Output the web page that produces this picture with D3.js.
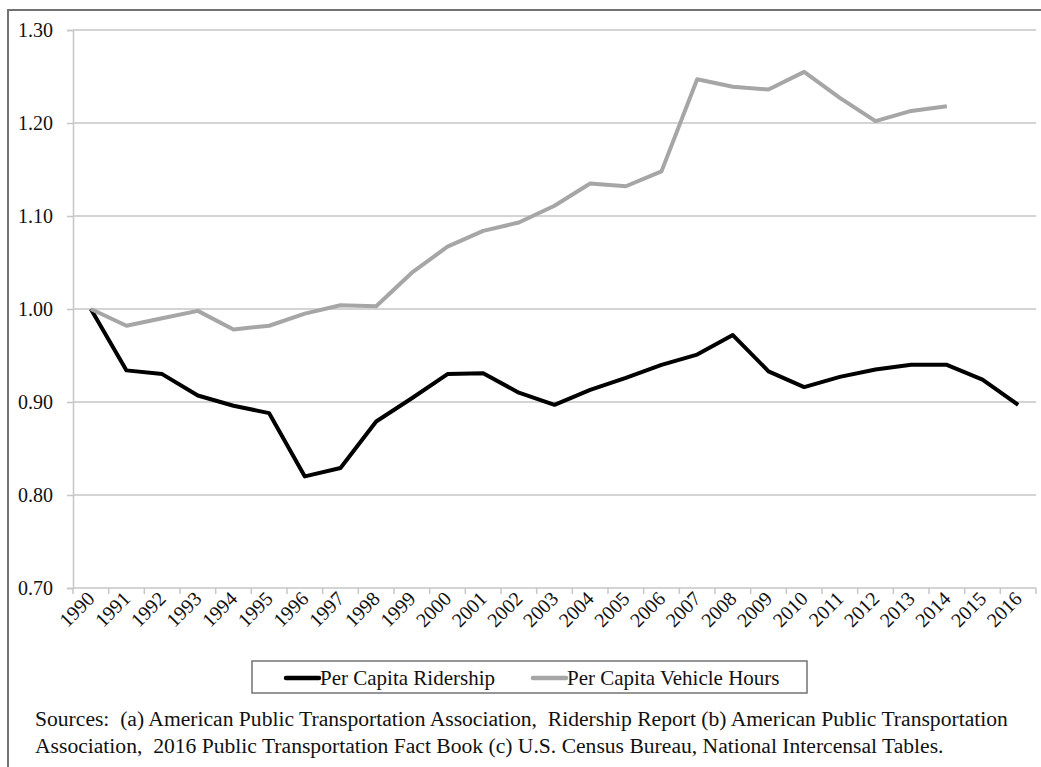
<!DOCTYPE html>
<html>
<head>
<meta charset="utf-8">
<script src="https://cdn.jsdelivr.net/npm/d3@7"></script>
<style>
  body { margin: 0; background: #fff; }
  svg { display: block; font-family: 'Liberation Serif', 'Times New Roman', serif; }
</style>
</head>
<body>
<svg width="1041" height="767"></svg>
<script>
const YEARS = ['1990', '1991', '1992', '1993', '1994', '1995', '1996', '1997', '1998', '1999',
  '2000', '2001', '2002', '2003', '2004', '2005', '2006', '2007', '2008', '2009',
  '2010', '2011', '2012', '2013', '2014', '2015', '2016'];

const RIDERSHIP = [1.000, 0.934, 0.930, 0.907, 0.896, 0.888, 0.820, 0.829, 0.879, 0.904,
  0.930, 0.931, 0.910, 0.897, 0.913, 0.926, 0.940, 0.951, 0.972, 0.933,
  0.916, 0.927, 0.935, 0.940, 0.940, 0.924, 0.897];

const VEHICLE_HOURS = [1.000, 0.982, 0.990, 0.998, 0.978, 0.982, 0.995, 1.004, 1.003, 1.039,
  1.067, 1.084, 1.093, 1.111, 1.135, 1.132, 1.148, 1.247, 1.239, 1.236,
  1.255, 1.227, 1.202, 1.213, 1.218];

const Y_TICKS = [0.70, 0.80, 0.90, 1.00, 1.10, 1.20, 1.30];

const SERIES = [
  {name: 'Per Capita Ridership', values: RIDERSHIP, color: '#000000'},
  {name: 'Per Capita Vehicle Hours', values: VEHICLE_HOURS, color: '#a6a6a6'},
];

const SOURCES = [
  'Sources:  (a) American Public Transportation Association,  Ridership Report (b) American Public Transportation',
  'Association,  2016 Public Transportation Fact Book (c) U.S. Census Bureau, National Intercensal Tables.',
];

const margin = {top: 30, left: 73, right: 5, bottom: 179};
const WIDTH = 1041;
const HEIGHT = 767;
const width = WIDTH - margin.left - margin.right;
const height = HEIGHT - margin.top - margin.bottom;

const svg = d3.select('svg');

// outer frame (only top and left edges are visible in the picture)
svg.append('path')
  .attr('d', `M8,${HEIGHT + 2} L8,10 L${WIDTH + 2},10`)
  .attr('fill', 'none')
  .attr('stroke', '#737373')
  .attr('stroke-width', 2);

const g = svg.append('g').attr('transform', `translate(${margin.left}, ${margin.top})`);

const x = d3.scaleBand().domain(YEARS).range([0, width]);
const y = d3.scaleLinear().domain([0.7, 1.3]).range([height, 0]);

// gridlines
g.append('g')
  .selectAll('line')
  .data(Y_TICKS.slice(1))
  .join('line')
  .attr('x1', 0)
  .attr('x2', width)
  .attr('y1', (d) => y(d))
  .attr('y2', (d) => y(d))
  .attr('stroke', '#c6c6c6')
  .attr('stroke-width', 1.5);

// y axis
const yAxis = g.append('g')
  .call(d3.axisLeft(y).tickValues(Y_TICKS).tickFormat(d3.format('.2f')).tickSize(6).tickPadding(14));
yAxis.select('.domain').attr('stroke', '#c6c6c6').attr('stroke-width', 1.5);
yAxis.selectAll('.tick line').attr('stroke', '#c6c6c6').attr('stroke-width', 1.5);
yAxis.selectAll('text')
  .attr('fill', '#111')
  .style('font-family', "'Liberation Serif', serif")
  .style('font-size', '20px');

// x axis, ticks between categories
const xAxis = g.append('g').attr('transform', `translate(0, ${height})`);
xAxis.append('line')
  .attr('x1', 0).attr('x2', width)
  .attr('stroke', '#c6c6c6').attr('stroke-width', 1.5);
xAxis.selectAll('.tk')
  .data(YEARS.concat(['end']))
  .join('line')
  .attr('class', 'tk')
  .attr('x1', (d, i) => i * x.step())
  .attr('x2', (d, i) => i * x.step())
  .attr('y1', 0)
  .attr('y2', 6)
  .attr('stroke', '#c6c6c6')
  .attr('stroke-width', 1.5);
xAxis.selectAll('.lbl')
  .data(YEARS)
  .join('text')
  .attr('class', 'lbl')
  .attr('transform', (d) => `translate(${x(d) + x.bandwidth() / 2 + 5}, 12) rotate(-45)`)
  .attr('text-anchor', 'end')
  .attr('fill', '#111')
  .style('font-size', '20px')
  .text((d) => d);

// lines
const line = d3.line()
  .x((d, i) => x(YEARS[i]) + x.bandwidth() / 2)
  .y((d) => y(d));

g.selectAll('.series')
  .data(SERIES)
  .join('path')
  .attr('class', 'series')
  .attr('fill', 'none')
  .attr('stroke', (d) => d.color)
  .attr('stroke-width', 4)
  .attr('stroke-linejoin', 'round')
  .attr('d', (d) => line(d.values));

// legend
const legend = svg.append('g').attr('transform', 'translate(252, 661)');
legend.append('rect')
  .attr('width', 555)
  .attr('height', 32)
  .attr('fill', '#fff')
  .attr('stroke', '#737373')
  .attr('stroke-width', 1.5);

const legendX = [34, 281];
SERIES.forEach((s, i) => {
  const item = legend.append('g').attr('transform', `translate(${legendX[i]}, 17)`);
  item.append('line')
    .attr('x1', 0).attr('x2', 33)
    .attr('stroke', s.color)
    .attr('stroke-width', 4.5)
    .attr('stroke-linecap', 'round');
  item.append('text')
    .attr('x', 34)
    .attr('y', 7)
    .attr('fill', '#111')
    .style('font-size', '21px')
    .text(s.name);
});

// sources note
svg.append('g')
  .selectAll('text')
  .data(SOURCES)
  .join('text')
  .attr('x', 35)
  .attr('y', (d, i) => 726 + i * 27)
  .attr('fill', '#111')
  .style('font-size', '21.6px')
  .style('white-space', 'pre')
  .text((d) => d);
</script>
</body>
</html>
